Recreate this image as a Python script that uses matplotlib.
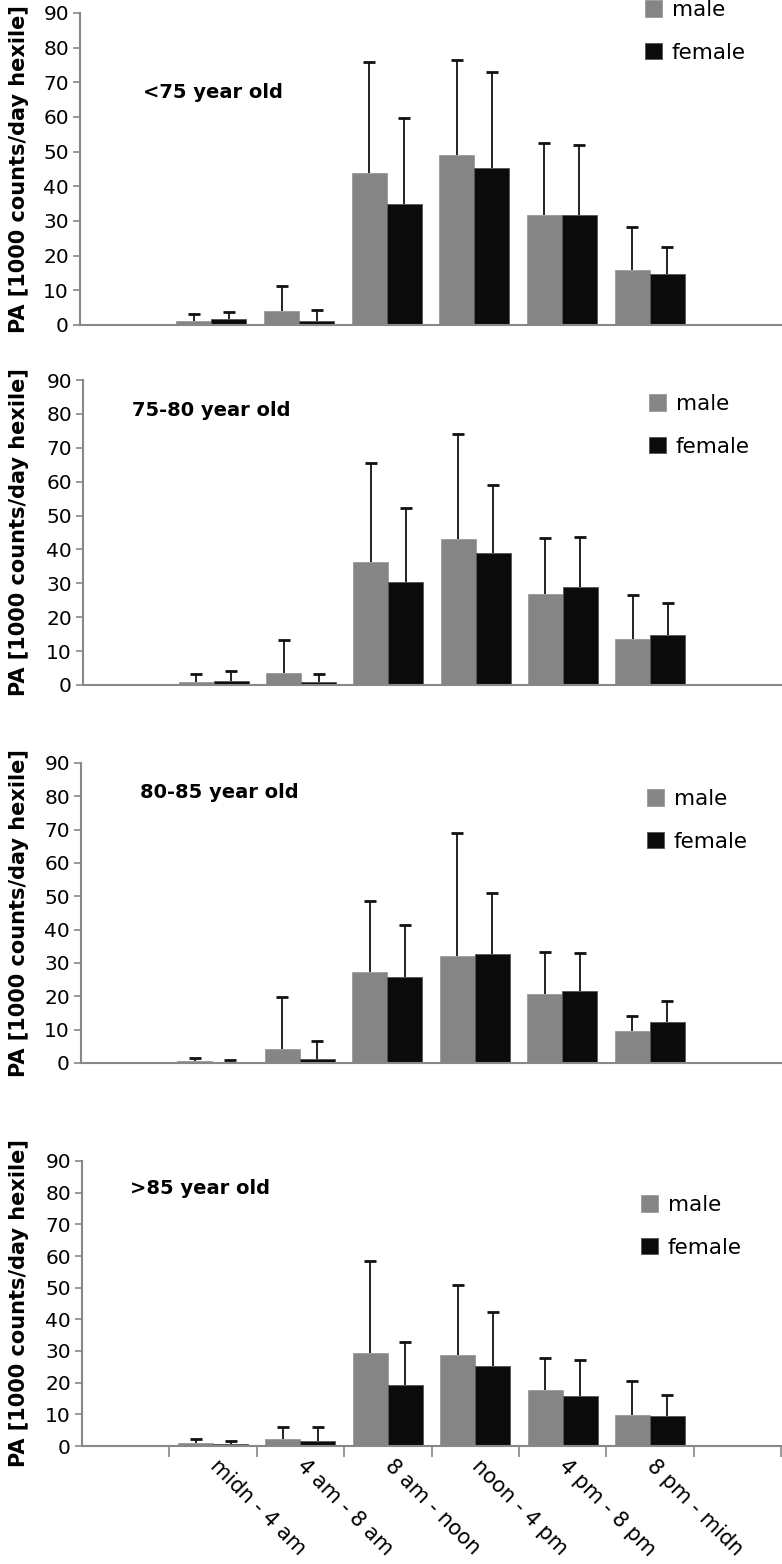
import numpy as np
import matplotlib
matplotlib.use('Agg')
import matplotlib.pyplot as plt

hexiles = ['midn - 4 am', '4 am - 8 am', '8 am - noon', 'noon - 4 pm', '4 pm - 8 pm', '8 pm - midn']
groups = ['<75 year old', '75-80 year old', '80-85 year old', '>85 year old']

# mean PA per hexile, and the SD drawn as one-sided error bar
male_lt75 = [1.2, 4.0, 43.8, 48.9, 31.8, 15.8]
male_lt75_sd = [2.0, 7.3, 32.2, 27.5, 20.8, 12.6]
female_lt75 = [1.7, 1.2, 34.8, 45.4, 31.8, 14.6]
female_lt75_sd = [2.1, 3.1, 24.9, 27.6, 20.1, 8.0]

male_75_80 = [1.0, 3.4, 36.4, 43.1, 26.9, 13.6]
male_75_80_sd = [2.2, 10.0, 29.0, 31.0, 16.6, 13.1]
female_75_80 = [1.3, 0.9, 30.5, 38.9, 28.8, 14.9]
female_75_80_sd = [2.8, 2.3, 21.7, 20.2, 15.0, 9.4]

male_80_85 = [0.5, 4.2, 27.4, 32.2, 20.8, 9.5]
male_80_85_sd = [1.1, 15.6, 21.3, 36.8, 12.6, 4.6]
female_80_85 = [0.1, 1.3, 25.8, 32.6, 21.6, 12.3]
female_80_85_sd = [0.7, 5.2, 15.7, 18.5, 11.3, 6.3]

male_gt85 = [0.95, 2.2, 29.5, 28.6, 17.6, 9.9]
male_gt85_sd = [1.15, 3.8, 28.9, 22.1, 10.1, 10.5]
female_gt85 = [0.5, 1.5, 19.4, 25.3, 15.9, 9.5]
female_gt85_sd = [1.1, 4.5, 13.4, 16.9, 11.3, 6.6]

males = [male_lt75, male_75_80, male_80_85, male_gt85]
males_sd = [male_lt75_sd, male_75_80_sd, male_80_85_sd, male_gt85_sd]
females = [female_lt75, female_75_80, female_80_85, female_gt85]
females_sd = [female_lt75_sd, female_75_80_sd, female_80_85_sd, female_gt85_sd]

W, H = 782, 1564
fig = plt.figure(figsize=(W / 100.0, H / 100.0), dpi=100)

# panel boxes in pixels: left, y of 90, y of 0
boxes = [(80, 13, 325), (83, 380, 685), (81, 763, 1063), (82, 1161, 1446)]
titles_at = [(143, 92), (132, 411), (140, 792), (130, 1189)]
legends_at = [(645, 0), (649, 394), (647, 789), (641, 1195)]

axcol = '#888888'
x = np.arange(1, len(hexiles) + 1)
bw = 0.4


def upper_err(ax, xs, ys, err):
	eb = ax.errorbar(xs, ys, yerr=[np.zeros(len(ys)), err], fmt='none', ecolor='#111111',
		elinewidth=1.3, capsize=4, capthick=2, zorder=1)
	# drop the lower caps, bars only go up
	eb[1][0].set_visible(False)


for i in range(4):
	left, top, zero = boxes[i]
	ax = fig.add_axes([left / W, 1 - zero / H, (781 - left) / W, (zero - top) / H])
	m = ax.bar(x - bw / 2, males[i], bw, color='#858585', edgecolor='#9a9a9a', linewidth=0.6, label='male', zorder=2)
	f = ax.bar(x + bw / 2, females[i], bw, color='#0b0b0b', edgecolor='#555555', linewidth=0.6, label='female', zorder=2)
	upper_err(ax, x - bw / 2, males[i], males_sd[i])
	upper_err(ax, x + bw / 2, females[i], females_sd[i])
	ax.set_xlim(-0.5, 7.5)
	ax.set_ylim(0, 90)
	ax.set_yticks(range(0, 91, 10))
	ax.tick_params(axis='y', direction='out', length=5, width=1.2, color=axcol, labelsize=14.5, pad=3)
	for s in ['top', 'right']:
		ax.spines[s].set_visible(False)
	for s in ['left', 'bottom']:
		ax.spines[s].set_color(axcol)
		ax.spines[s].set_linewidth(1.5)
	if i < 3:
		ax.set_xticks([])
	else:
		ax.set_xticks(np.arange(0.5, 8, 1))
		ax.set_xticklabels([])
		ax.tick_params(axis='x', which='major', direction='out', length=8, width=1.2, color=axcol)
		ax.set_xticks(x, minor=True)
		ax.set_xticklabels(hexiles, minor=True, rotation=-45, ha='left', va='center',
			rotation_mode='anchor', fontsize=15)
		ax.tick_params(axis='x', which='minor', length=0, pad=12)
	tx, ty = titles_at[i]
	fig.text(tx / W, 1 - ty / H, groups[i], fontsize=14, fontweight='bold', ha='left', va='center')
	fig.text(19.0 / W, 1 - (top + zero) / 2.0 / H, 'PA [1000 counts/day hexile]', fontsize=15,
		fontweight='bold', rotation=90, ha='center', va='center')
	lx, ly = legends_at[i]
	ax.legend(handles=[m, f], loc='upper left', bbox_to_anchor=(lx / W, 1 - ly / H), bbox_transform=fig.transFigure,
		frameon=False, fontsize=15.5, handlelength=0.8, handleheight=0.8, handletextpad=0.45,
		labelspacing=1.05, borderaxespad=0, borderpad=0)

fig.savefig('out.png', dpi=100)
